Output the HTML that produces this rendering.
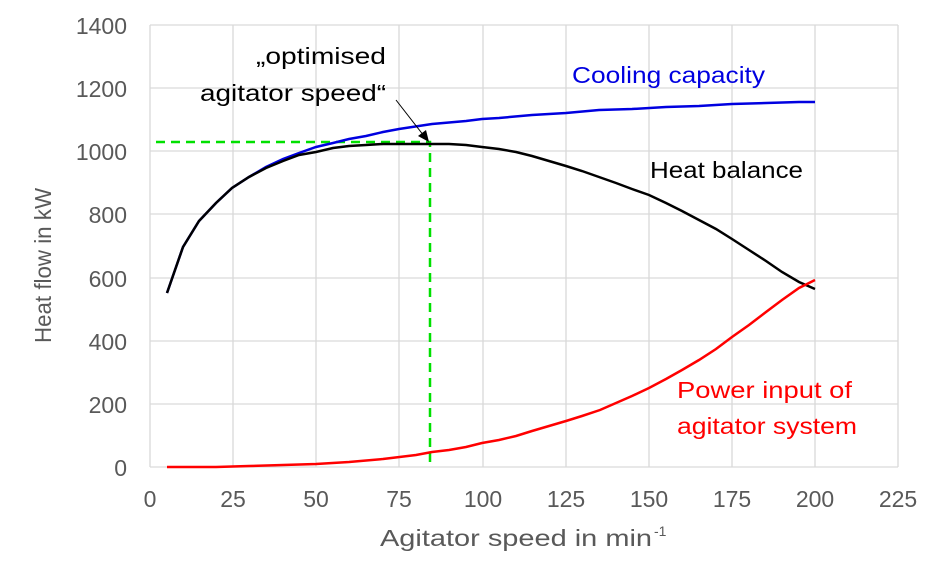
<!DOCTYPE html>
<html><head><style>
body{margin:0;background:#fff;}
svg text{font-family:"Liberation Sans",Arial,sans-serif;}
</style></head><body>
<svg width="945" height="577" xmlns="http://www.w3.org/2000/svg">
<rect width="945" height="577" fill="#fff"/>
<g stroke="#d9d9d9" stroke-width="1.3">
<line x1="150" y1="25" x2="898" y2="25"/><line x1="150" y1="88" x2="898" y2="88"/><line x1="150" y1="151" x2="898" y2="151"/><line x1="150" y1="214" x2="898" y2="214"/><line x1="150" y1="278" x2="898" y2="278"/><line x1="150" y1="341" x2="898" y2="341"/><line x1="150" y1="404" x2="898" y2="404"/><line x1="150" y1="467" x2="898" y2="467"/>
<line x1="150" y1="25" x2="150" y2="467"/><line x1="233" y1="25" x2="233" y2="467"/><line x1="316" y1="25" x2="316" y2="467"/><line x1="399" y1="25" x2="399" y2="467"/><line x1="483" y1="25" x2="483" y2="467"/><line x1="566" y1="25" x2="566" y2="467"/><line x1="649" y1="25" x2="649" y2="467"/><line x1="732" y1="25" x2="732" y2="467"/><line x1="815" y1="25" x2="815" y2="467"/><line x1="898" y1="25" x2="898" y2="467"/>
</g>
<g fill="#595959" font-size="23" text-anchor="end">
<text x="127" y="34">1400</text><text x="127" y="97">1200</text><text x="127" y="160">1000</text><text x="127" y="223">800</text><text x="127" y="287">600</text><text x="127" y="350">400</text><text x="127" y="413">200</text><text x="127" y="476">0</text>
</g>
<g fill="#595959" font-size="23" text-anchor="middle">
<text x="150" y="507">0</text><text x="233" y="507">25</text><text x="316" y="507">50</text><text x="399" y="507">75</text><text x="483" y="507">100</text><text x="566" y="507">125</text><text x="649" y="507">150</text><text x="732" y="507">175</text><text x="815" y="507">200</text><text x="898" y="507">225</text>
</g>
<text x="380" y="546" fill="#595959" font-size="23" textLength="272" lengthAdjust="spacingAndGlyphs">Agitator speed in min</text>
<text x="654" y="536" fill="#595959" font-size="14">-1</text>
<text transform="translate(51,343) rotate(-90)" fill="#595959" font-size="23" textLength="155" lengthAdjust="spacingAndGlyphs">Heat flow in kW</text>
<polyline fill="none" stroke="#00e000" stroke-width="2.5" stroke-dasharray="9,6" points="156,142 430,142 430,467"/>
<polyline fill="none" stroke="#0000e0" stroke-width="2.5" points="167,293 183,247 199,221 216,203 232,188 249,177 266,167 283,159 299,153 316,147 333,143 349,139 366,136 383,132 399,129 432,124 466,121 482,119 499,118 532,115 566,113 599,110 632,109 666,107 699,106 732,104 766,103 799,102 815,102"/>
<polyline fill="none" stroke="#000" stroke-width="2.5" points="167,293 183,247 199,221 216,203 232,188 249,177 266,168 283,161 299,155 316,152 333,148 349,146 366,145 383,144 399,144 416,144 432,144 449,144 466,145 482,147 499,149 516,152 532,156 549,161 566,166 582,171 599,177 616,183 632,189 649,195 666,203 682,211 699,220 716,229 732,239 749,250 766,261 782,272 799,282 815,289" />
<polyline fill="none" stroke="#ff0000" stroke-width="2.5" points="167,467 216,467 249,466 283,465 316,464 349,462 383,459 416,455 432,452 449,450 466,447 482,443 499,440 516,436 532,431 549,426 566,421 582,416 600,410 616,403 632,396 649,388 666,379 682,370 699,360 716,349 732,337 749,325 766,312 782,300 799,288 815,280"/>
<line x1="396" y1="100" x2="424" y2="136" stroke="#000" stroke-width="1"/>
<polygon points="429,142 418,136 426,130" fill="#000"/>
<g font-size="23">
<text x="256" y="64" fill="#000" textLength="130" lengthAdjust="spacingAndGlyphs">„optimised</text>
<text x="200" y="101" fill="#000" textLength="186" lengthAdjust="spacingAndGlyphs">agitator speed“</text>
<text x="572" y="83" fill="#0000e0" textLength="193" lengthAdjust="spacingAndGlyphs">Cooling capacity</text>
<text x="650" y="178" fill="#000" textLength="153" lengthAdjust="spacingAndGlyphs">Heat balance</text>
<text x="677" y="398" fill="#ff0000" textLength="175" lengthAdjust="spacingAndGlyphs">Power input of</text>
<text x="677" y="434" fill="#ff0000" textLength="180" lengthAdjust="spacingAndGlyphs">agitator system</text>
</g>
</svg>
</body></html>
